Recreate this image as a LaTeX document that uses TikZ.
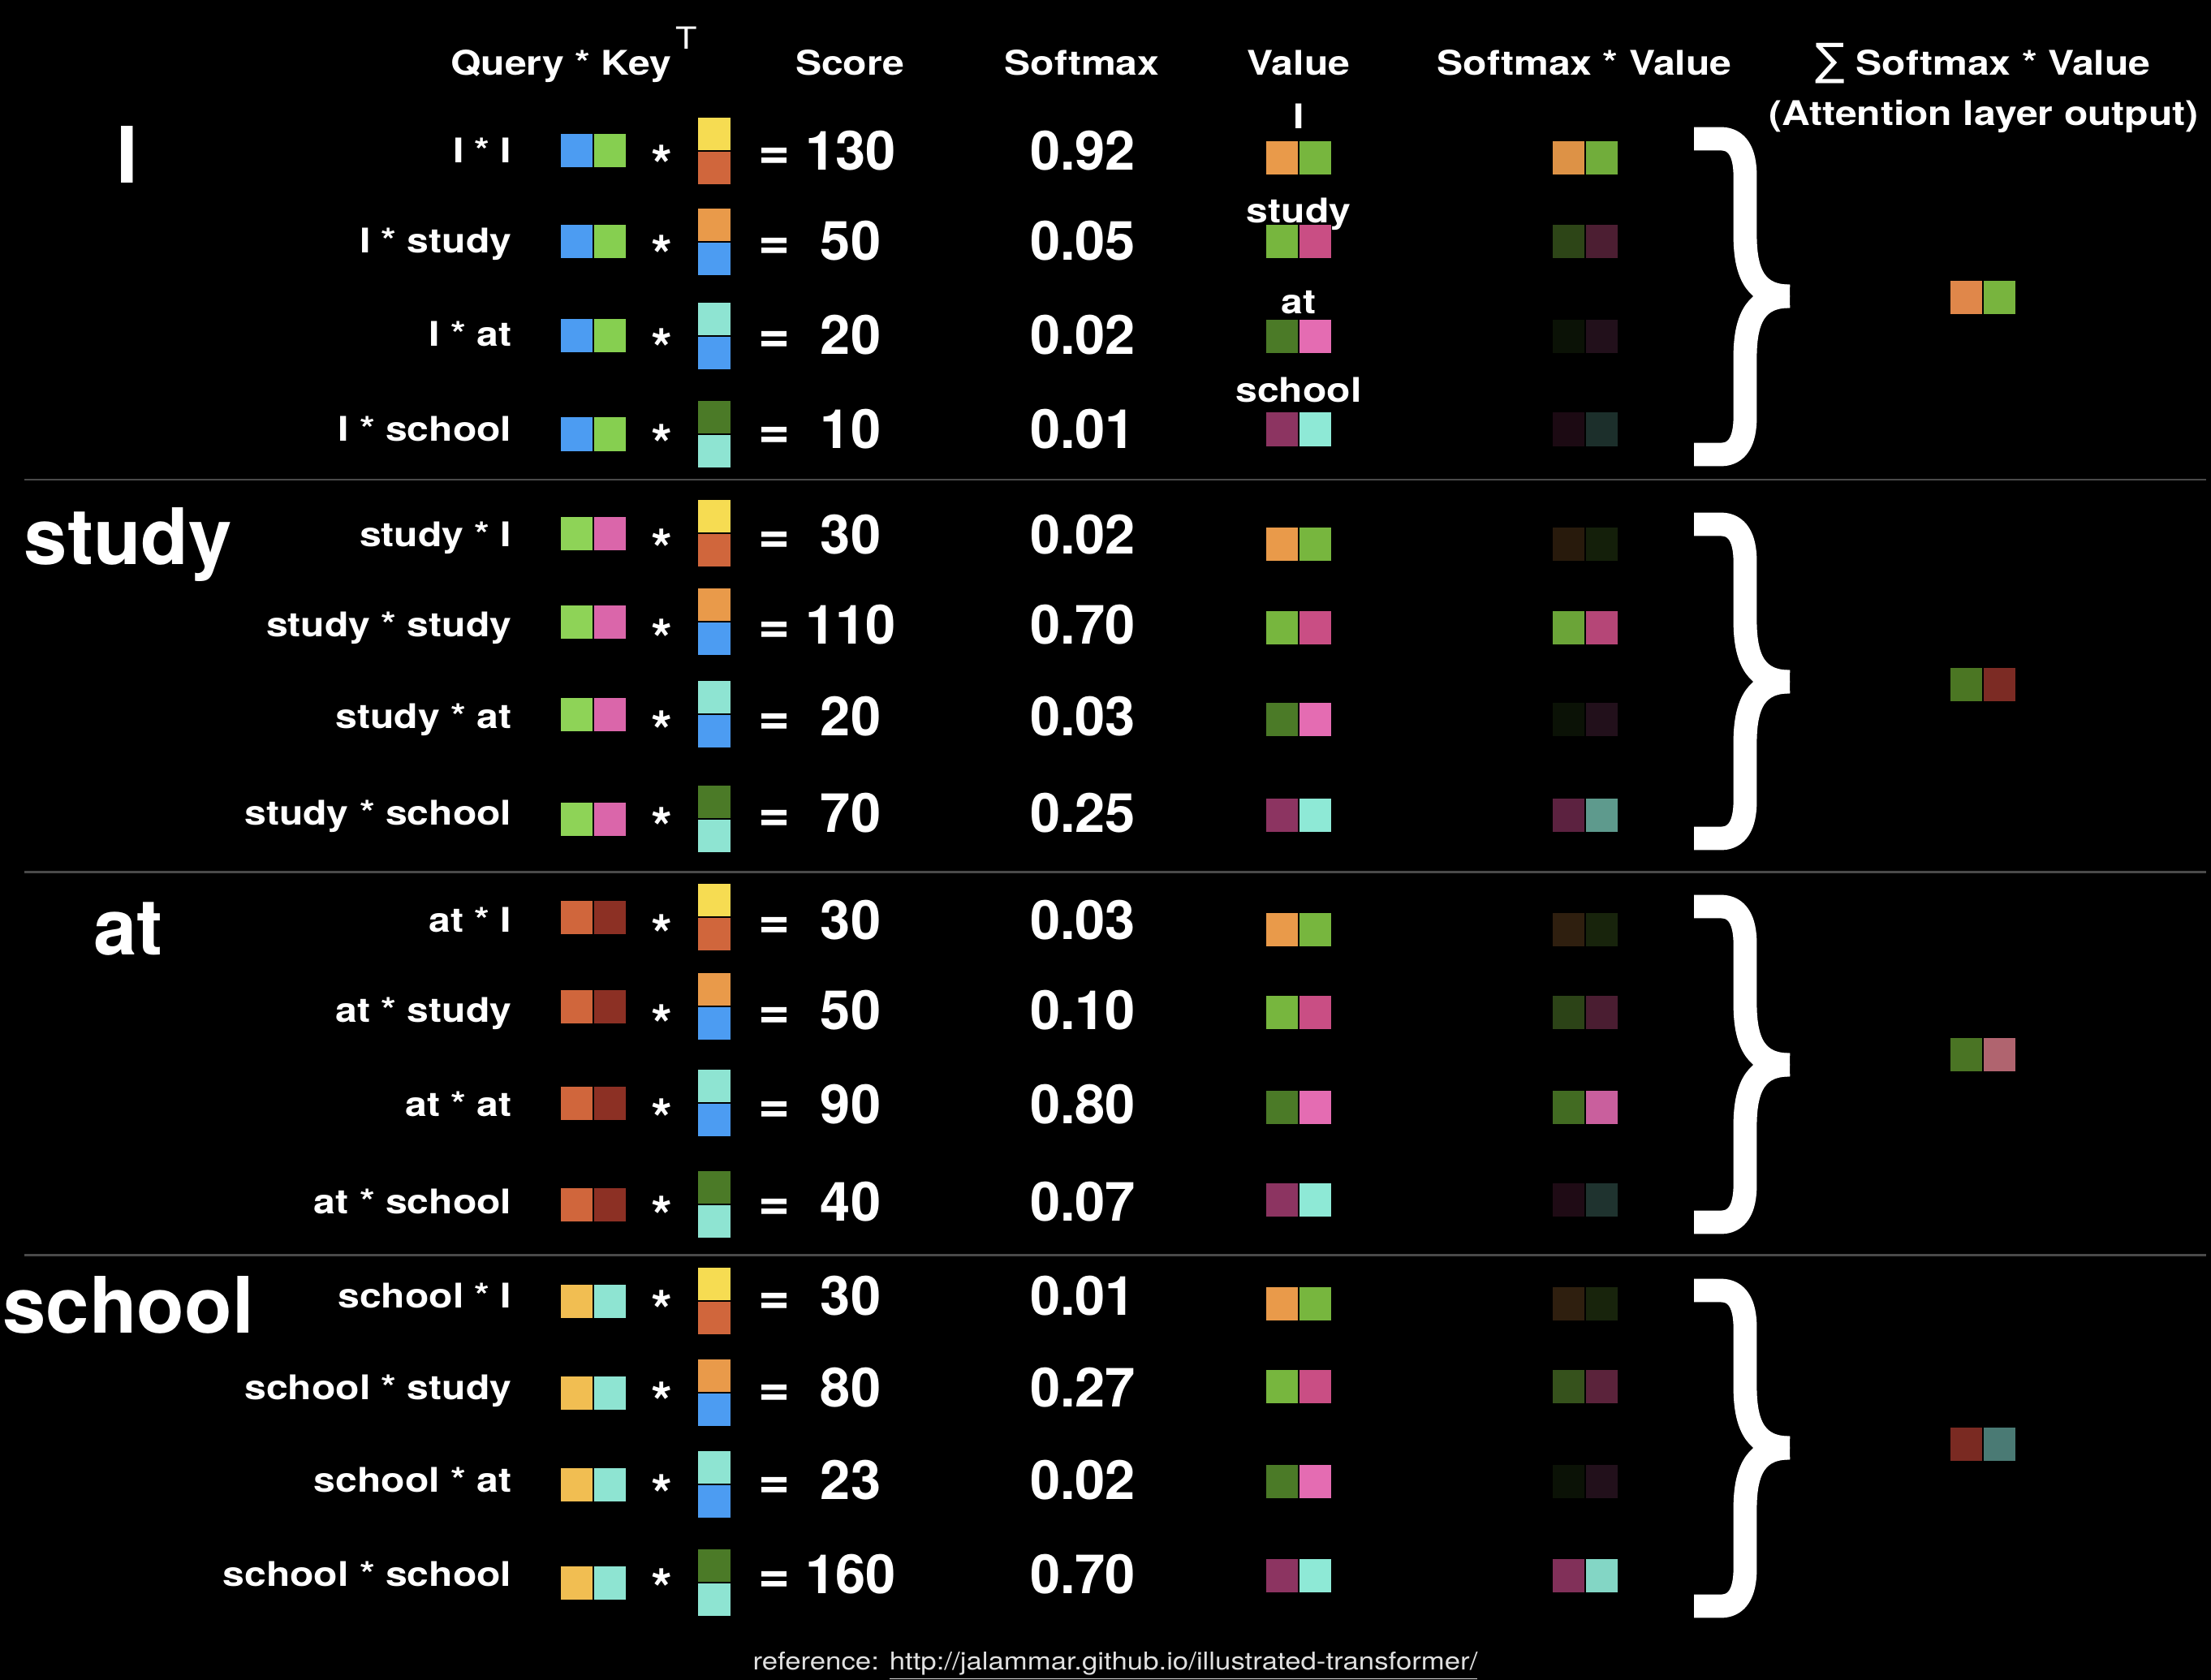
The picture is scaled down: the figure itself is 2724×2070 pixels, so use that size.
\documentclass[tikz,border=0pt]{standalone}
\usepackage{fontspec}
\setmainfont{TeX Gyre Heros}
\newfontfamily\lblfont{TeX Gyre Heros}[FakeStretch=1.15]
\newfontfamily\symfont{DejaVu Sans}
\definecolor{cBlue}{HTML}{4C9CF2}
\definecolor{cGreenA}{HTML}{86CF50}
\definecolor{cYellow}{HTML}{F6DC52}
\definecolor{cRust}{HTML}{D0663C}
\definecolor{cMaroon}{HTML}{8C3024}
\definecolor{cOrange}{HTML}{E99A4A}
\definecolor{cCyan}{HTML}{8EE4D2}
\definecolor{cDkGreen}{HTML}{4B7A27}
\definecolor{cGold}{HTML}{F1BE52}
\definecolor{cLime}{HTML}{8ED357}
\definecolor{cPink}{HTML}{DA66AA}
\definecolor{cVGreen}{HTML}{77B63E}
\definecolor{cVMag}{HTML}{C94E84}
\definecolor{cVPink}{HTML}{E46CB2}
\definecolor{cVPlum}{HTML}{8C3461}
\definecolor{cVCyan}{HTML}{8EE9D6}
\definecolor{oA1}{HTML}{E0874A}
\definecolor{oA2}{HTML}{78B43E}
\definecolor{oB1}{HTML}{4B7623}
\definecolor{oB2}{HTML}{7C2B24}
\definecolor{oC1}{HTML}{4A7424}
\definecolor{oC2}{HTML}{B0646F}
\definecolor{oD1}{HTML}{7A2A22}
\definecolor{oD2}{HTML}{4A7A74}
\definecolor{sepgray}{HTML}{4A4A4A}
% horizontal pair of squares: cx, cy, left colour, right colour
\newcommand\qpair[4]{%
  \fill[#3] ({#1-40},{#2-20.5}) rectangle ({#1-1},{#2+20.5});
  \fill[#4] ({#1+1},{#2-20.5}) rectangle ({#1+40},{#2+20.5});}
% vertical pair of squares: cx, cy, top colour, bottom colour
\newcommand\kpair[4]{%
  \fill[#3] ({#1-20},{#2-41}) rectangle ({#1+20},{#2-1});
  \fill[#4] ({#1-20},{#2+1}) rectangle ({#1+20},{#2+41});}
% text row: id, text y, label, score, softmax
\newcommand\trow[5]{%
  \node[lbl,anchor=base east] (lab-#1) at (631,{#2+15}) {#3};
  \node[num,anchor=base] (ast-#1) at (815,{#2+42}) {*};
  \node[num,anchor=base] (eq-#1) at (954,{#2+23}) {=};
  \node[num,anchor=base] (sc-#1) at (1048,{#2+24}) {#4};
  \node[num,anchor=base] (sm-#1) at (1334,{#2+24}) {#5};}
% query/key boxes: y, qL, qR, kT, kB
\newcommand\brow[5]{\qpair{731}{#1}{#2}{#3}\kpair{880}{#1}{#4}{#5}}
% value and softmax*value boxes: y, vL, vR, percent
\newcommand\vrow[4]{\qpair{1600}{#1}{#2}{#3}\qpair{1953}{#1}{#2!#4!black}{#3!#4!black}}
% brace: top, bottom, middle
\newcommand\bracefig[3]{%
  \draw[brace] (2087,{#1+14}) -- (2120,{#1+14}) .. controls (2140,{#1+14}) and (2150,{#1+30}) .. (2150,{#1+60}) -- (2150,{#3-75}) .. controls (2150,{#3-25}) and (2165,{#3}) .. (2205,{#3});
  \draw[brace] (2087,{#2-14}) -- (2120,{#2-14}) .. controls (2140,{#2-14}) and (2150,{#2-30}) .. (2150,{#2-60}) -- (2150,{#3+75}) .. controls (2150,{#3+25}) and (2165,{#3}) .. (2205,{#3});}
\begin{document}
\begin{tikzpicture}[x=0.01cm,y=-0.01cm,
  lbl/.style={text=white,font=\lblfont\fontsize{11.9}{14}\selectfont\bfseries,inner sep=0pt},
  num/.style={text=white,font=\fontsize{19}{22}\selectfont\bfseries,inner sep=0pt},
  big/.style={text=white,font=\fontsize{27.3}{32}\selectfont\bfseries,inner sep=0pt},
  foot/.style={text=white!88!black,font=\lblfont\fontsize{8.6}{10}\selectfont,inner sep=0pt},
  brace/.style={draw=white,line width=8.2pt,line join=round},
  sep/.style={draw=sepgray,line width=0.85pt}]
\useasboundingbox (0,0) rectangle (2724,2070);
\fill[black] (0,0) rectangle (2724,2070);

% headers
\node[lbl,anchor=base east] (hq) at (828,93) {Query * Key};
\node[text=white,font=\lblfont\fontsize{10.7}{12}\selectfont,inner sep=0pt,anchor=base west] (hT) at (832,61) {T};
\node[lbl,anchor=base] (hsc) at (1047,93) {Score};
\node[lbl,anchor=base] (hsm) at (1333,93) {Softmax};
\node[lbl,anchor=base] (hv) at (1600,93) {Value};
\node[lbl,anchor=base] (hsv) at (1952,93) {Softmax * Value};
\node[lbl,anchor=base] (hsum) at (2443,93) {{\symfont\mdseries\fontsize{15.5}{16}\selectfont ∑} Softmax * Value};
\node[lbl,anchor=base] (hout) at (2444,155) {(Attention layer output)};

% big words
\node[big,anchor=base] (wI) at (157,226) {I};
\node[big,anchor=base] (wstudy) at (158,695) {study};
\node[big,anchor=base] (wat) at (158,1176) {at};
\node[big,anchor=base] (wschool) at (158,1642) {school};

% value labels
\node[lbl,anchor=base] (vl1) at (1600,159) {I};
\node[lbl,anchor=base] (vl2) at (1600,275) {study};
\node[lbl,anchor=base] (vl3) at (1600,387) {at};
\node[lbl,anchor=base] (vl4) at (1600,495) {school};

% separators
\draw[sep] (30,591) -- (2718,591);
\draw[sep] (30,1074) -- (2718,1074);
\draw[sep] (30,1546) -- (2718,1546);

% ---------- group I ----------
\trow{1-1}{186}{I * I}{130}{0.92}
\trow{1-2}{297}{I * study}{50}{0.05}
\trow{1-3}{412}{I * at}{20}{0.02}
\trow{1-4}{529}{I * school}{10}{0.01}
\brow{186}{cBlue}{cGreenA}{cYellow}{cRust}
\brow{298}{cBlue}{cGreenA}{cOrange}{cBlue}
\brow{414}{cBlue}{cGreenA}{cCyan}{cBlue}
\brow{535}{cBlue}{cGreenA}{cDkGreen}{cCyan}
\vrow{195}{cOrange}{cVGreen}{95}
\vrow{298}{cVGreen}{cVMag}{38}
\vrow{415}{cDkGreen}{cVPink}{15}
\vrow{529}{cVPlum}{cVCyan}{20}
\bracefig{157}{574}{365}
\qpair{2443}{367}{oA1}{oA2}

% ---------- group study ----------
\trow{2-1}{658}{study * I}{30}{0.02}
\trow{2-2}{769}{study * study}{110}{0.70}
\trow{2-3}{882}{study * at}{20}{0.03}
\trow{2-4}{1001}{study * school}{70}{0.25}
\brow{657}{cLime}{cPink}{cYellow}{cRust}
\brow{766}{cLime}{cPink}{cOrange}{cBlue}
\brow{880}{cLime}{cPink}{cCyan}{cBlue}
\brow{1009}{cLime}{cPink}{cDkGreen}{cCyan}
\vrow{670}{cOrange}{cVGreen}{17}
\vrow{773}{cVGreen}{cVMag}{90}
\vrow{886}{cDkGreen}{cVPink}{15}
\vrow{1004}{cVPlum}{cVCyan}{66}
\bracefig{632}{1047}{840}
\qpair{2443}{843}{oB1}{oB2}

% ---------- group at ----------
\trow{3-1}{1133}{at * I}{30}{0.03}
\trow{3-2}{1244}{at * study}{50}{0.10}
\trow{3-3}{1360}{at * at}{90}{0.80}
\trow{3-4}{1480}{at * school}{40}{0.07}
\brow{1130}{cRust}{cMaroon}{cYellow}{cRust}
\brow{1240}{cRust}{cMaroon}{cOrange}{cBlue}
\brow{1359}{cRust}{cMaroon}{cCyan}{cBlue}
\brow{1484}{cRust}{cMaroon}{cDkGreen}{cCyan}
\vrow{1145}{cOrange}{cVGreen}{20}
\vrow{1247}{cVGreen}{cVMag}{37}
\vrow{1364}{cDkGreen}{cVPink}{88}
\vrow{1478}{cVPlum}{cVCyan}{22}
\bracefig{1103}{1520}{1312}
\qpair{2443}{1299}{oC1}{oC2}

% ---------- group school ----------
\trow{4-1}{1596}{school * I}{30}{0.01}
\trow{4-2}{1709}{school * study}{80}{0.27}
\trow{4-3}{1823}{school * at}{23}{0.02}
\trow{4-4}{1939}{school * school}{160}{0.70}
\brow{1603}{cGold}{cCyan}{cYellow}{cRust}
\brow{1716}{cGold}{cCyan}{cOrange}{cBlue}
\brow{1829}{cGold}{cCyan}{cCyan}{cBlue}
\brow{1950}{cGold}{cCyan}{cDkGreen}{cCyan}
\vrow{1606}{cOrange}{cVGreen}{20}
\vrow{1708}{cVGreen}{cVMag}{45}
\vrow{1825}{cDkGreen}{cVPink}{15}
\vrow{1941}{cVPlum}{cVCyan}{92}
\bracefig{1576}{1993}{1784}
\qpair{2443}{1779}{oD1}{oD2}

% footer
\node[foot,anchor=base] (ref) at (1374,2057) {reference: \underline{http://jalammar.github.io/illustrated-transformer/}};
\end{tikzpicture}
\end{document}
